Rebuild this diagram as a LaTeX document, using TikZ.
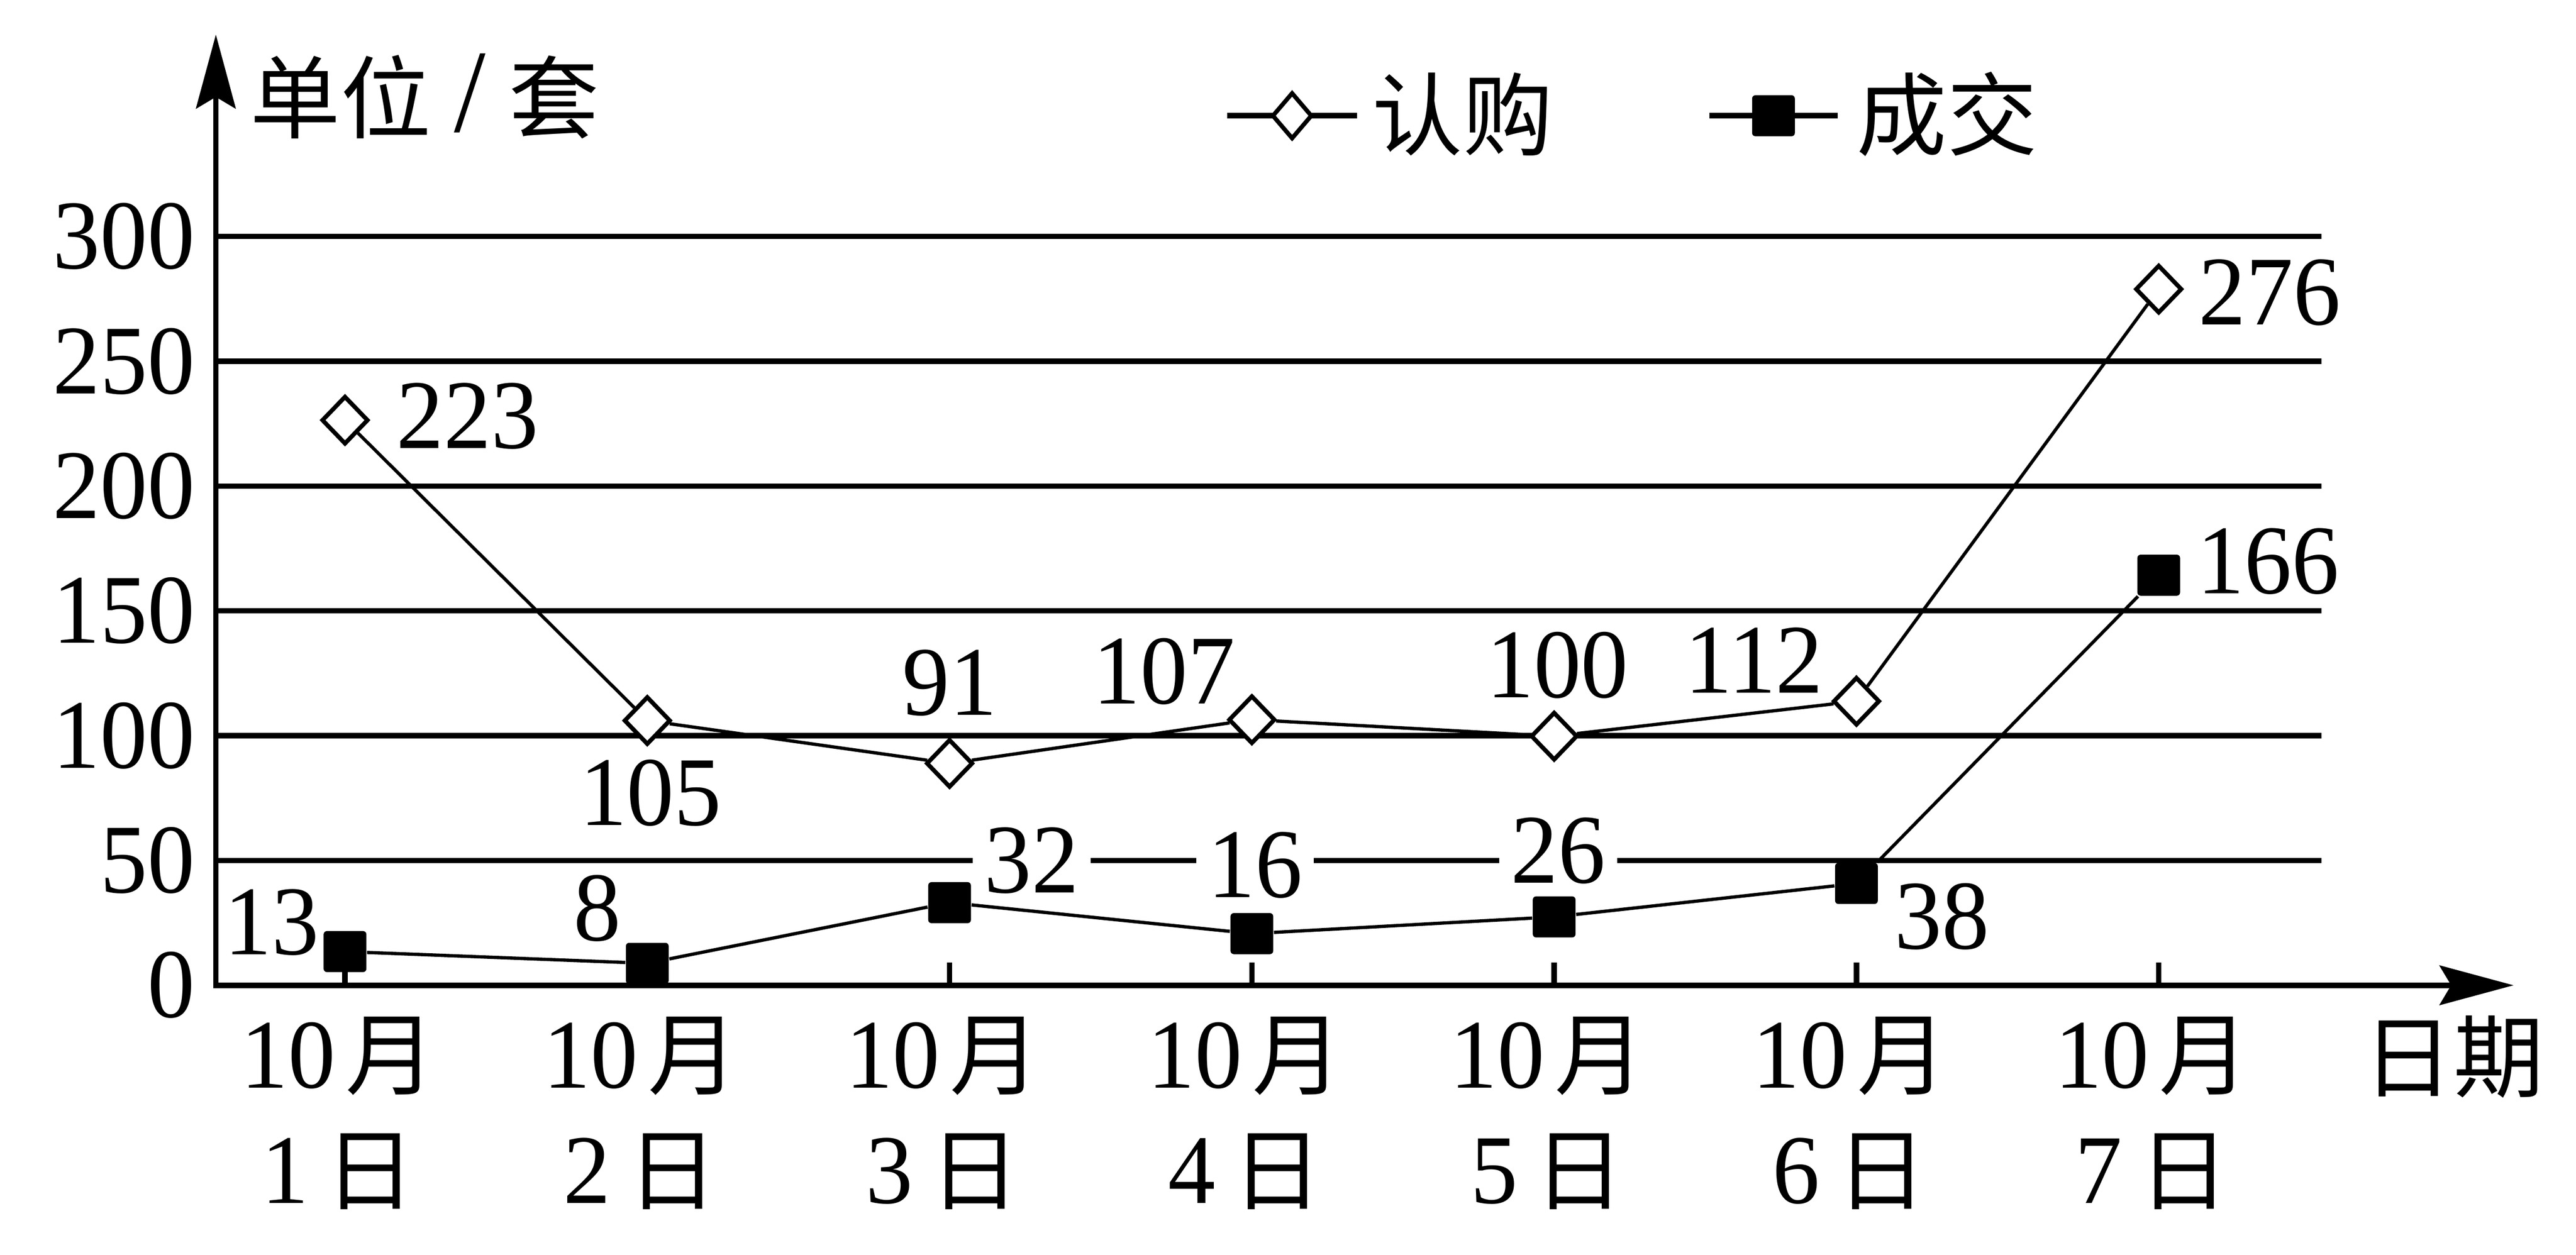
\documentclass[tikz,border=0pt]{standalone}
\usepackage{fontspec}
\setmainfont{Liberation Serif}[FakeStretch=0.96]
\newfontfamily\cjk{Noto Sans CJK SC}
\usepackage{tikz}
\usetikzlibrary{shapes.geometric,arrows.meta}
\newcommand{\zh}[1]{{\cjk\fontsize{27.5}{33}\selectfont #1}}
\tikzstyle{rgmark}=[diamond, draw, fill=white, line width=1.3pt, inner sep=0pt, minimum width=14.2pt, minimum height=14.7pt]
\tikzstyle{cjmark}=[rectangle, fill=black, rounded corners=1pt, inner sep=0pt, minimum width=13pt, minimum height=12.5pt]
\tikzstyle{val}=[inner sep=0pt]
\tikzstyle{valgrid}=[val, fill=white, inner xsep=3.5pt]
\tikzstyle{gridline}=[line width=1.65pt]
\tikzstyle{legline}=[line width=1.75pt]
\tikzstyle{axis}=[line width=1.7pt, {Stealth[length=22.5pt,width=12pt,inset=3.5pt]}-{Stealth[length=22.5pt,width=12pt,inset=3.5pt]}]
\newcommand{\rgmark}{\node[rgmark]}
\newcommand{\cjmark}{\node[cjmark]}

\begin{document}
\begin{tikzpicture}[x=92pt, y=0.76pt,
    every node/.style={font=\fontsize{30}{36}\selectfont},
    every edge/.style={draw, line width=1pt}
]
\useasboundingbox (-0.1413,-108.01) rectangle (8.3804,394.74);
% grid and ticks
\foreach \v in {50,100,...,300}
    \draw[gridline] (0.5728,\v) -- (7.538,\v);
\foreach \d in {1,...,7}
    \draw[gridline] (\d,0) -- (\d,9.2);
% axes
\coordinate (orig) at (0.5728,0);
\coordinate (ytip) at (0.5728,380.9);
\coordinate (xtip) at (8.1739,0);
\draw[axis] (ytip) -- (orig) -- (xtip);
\foreach \v in {0,50,...,300}
    \node[val, anchor=east] (yl\v) at (0.5054,\v) {\v};
\foreach \d in {1,...,7} {
    \node[val, anchor=base] (mo\d) at (\d-0.022,-41.05) {10\kern3pt\zh{月}};
    \node[val, anchor=base] (da\d) at (\d-0.022,-87.4) {\d\kern5pt\zh{日}};
}
\node[val, anchor=base west] (danwei) at (0.6848,342.1) {\zh{单位}\kern7pt{\fontsize{36}{40}\selectfont/}\kern7pt\zh{套}};
\node[val, anchor=base west] (riqi) at (7.674,-42.1) {\zh{日期}};
% legend
\coordinate (lg1a) at (3.9185,348.36);
\coordinate (lg1b) at (4.3478,348.36);
\draw[legline] (lg1a) -- node[rgmark, minimum width=12.2pt, minimum height=14.2pt] (lgrg) {} (lg1b);
\node[val, anchor=base west] (lgrgt) at (4.3967,335.2) {\zh{认购}};
\coordinate (lg2a) at (5.5136,348.36);
\coordinate (lg2b) at (5.9375,348.36);
\draw[legline] (lg2a) -- node[cjmark] (lgcj) {} (lg2b);
\node[val, anchor=base west] (lgcjt) at (5.9984,335.2) {\zh{成交}};
% values
\node[val] (rgv1) at (1.4049,228.0) {223};
\node[val] (rgv2) at (2.0109,76.97) {105};
\node[val] (rgv3) at (3.0,121.05) {91};
\node[val] (rgv4) at (3.7098,125.66) {107};
\node[val] (rgv5) at (5.0109,128.29) {100};
\node[val] (rgv6) at (5.6609,130.26) {112};
\node[val] (rgv7) at (7.3674,277.63) {276};
\node[val] (cjv1) at (0.7576,25.26) {13};
\node[val] (cjv2) at (1.8348,30.92) {8};
\node[valgrid] (cjv3) at (3.2717,49.87) {32};
\node[valgrid] (cjv4) at (4.0109,48.03) {16};
\node[valgrid] (cjv5) at (5.0136,53.95) {26};
\node[val] (cjv6) at (6.2826,27.63) {38};
\node[val] (cjv7) at (7.3614,169.74) {166};
% markers
\foreach \d/\v in {1/226.4,2/106.05,3/88.9,4/106.4,5/99.8,6/113.8,7/278.9}
    \rgmark (rg\d) at (\d,\v) {};
\foreach \d/\v in {1/13.5,2/8.8,3/33.1,4/20.7,5/27.4,6/40.8,7/164.3}
    \cjmark (cj\d) at (\d,\v) {};
\path
(rg1) edge (rg2)
(rg2) edge (rg3)
(rg3) edge (rg4)
(rg4) edge (rg5)
(rg5) edge (rg6)
(rg6) edge (rg7)
(cj1) edge (cj2)
(cj2) edge (cj3)
(cj3) edge (cj4)
(cj4) edge (cj5)
(cj5) edge (cj6)
(cj6) edge (cj7)
;
\end{tikzpicture}
\end{document}
